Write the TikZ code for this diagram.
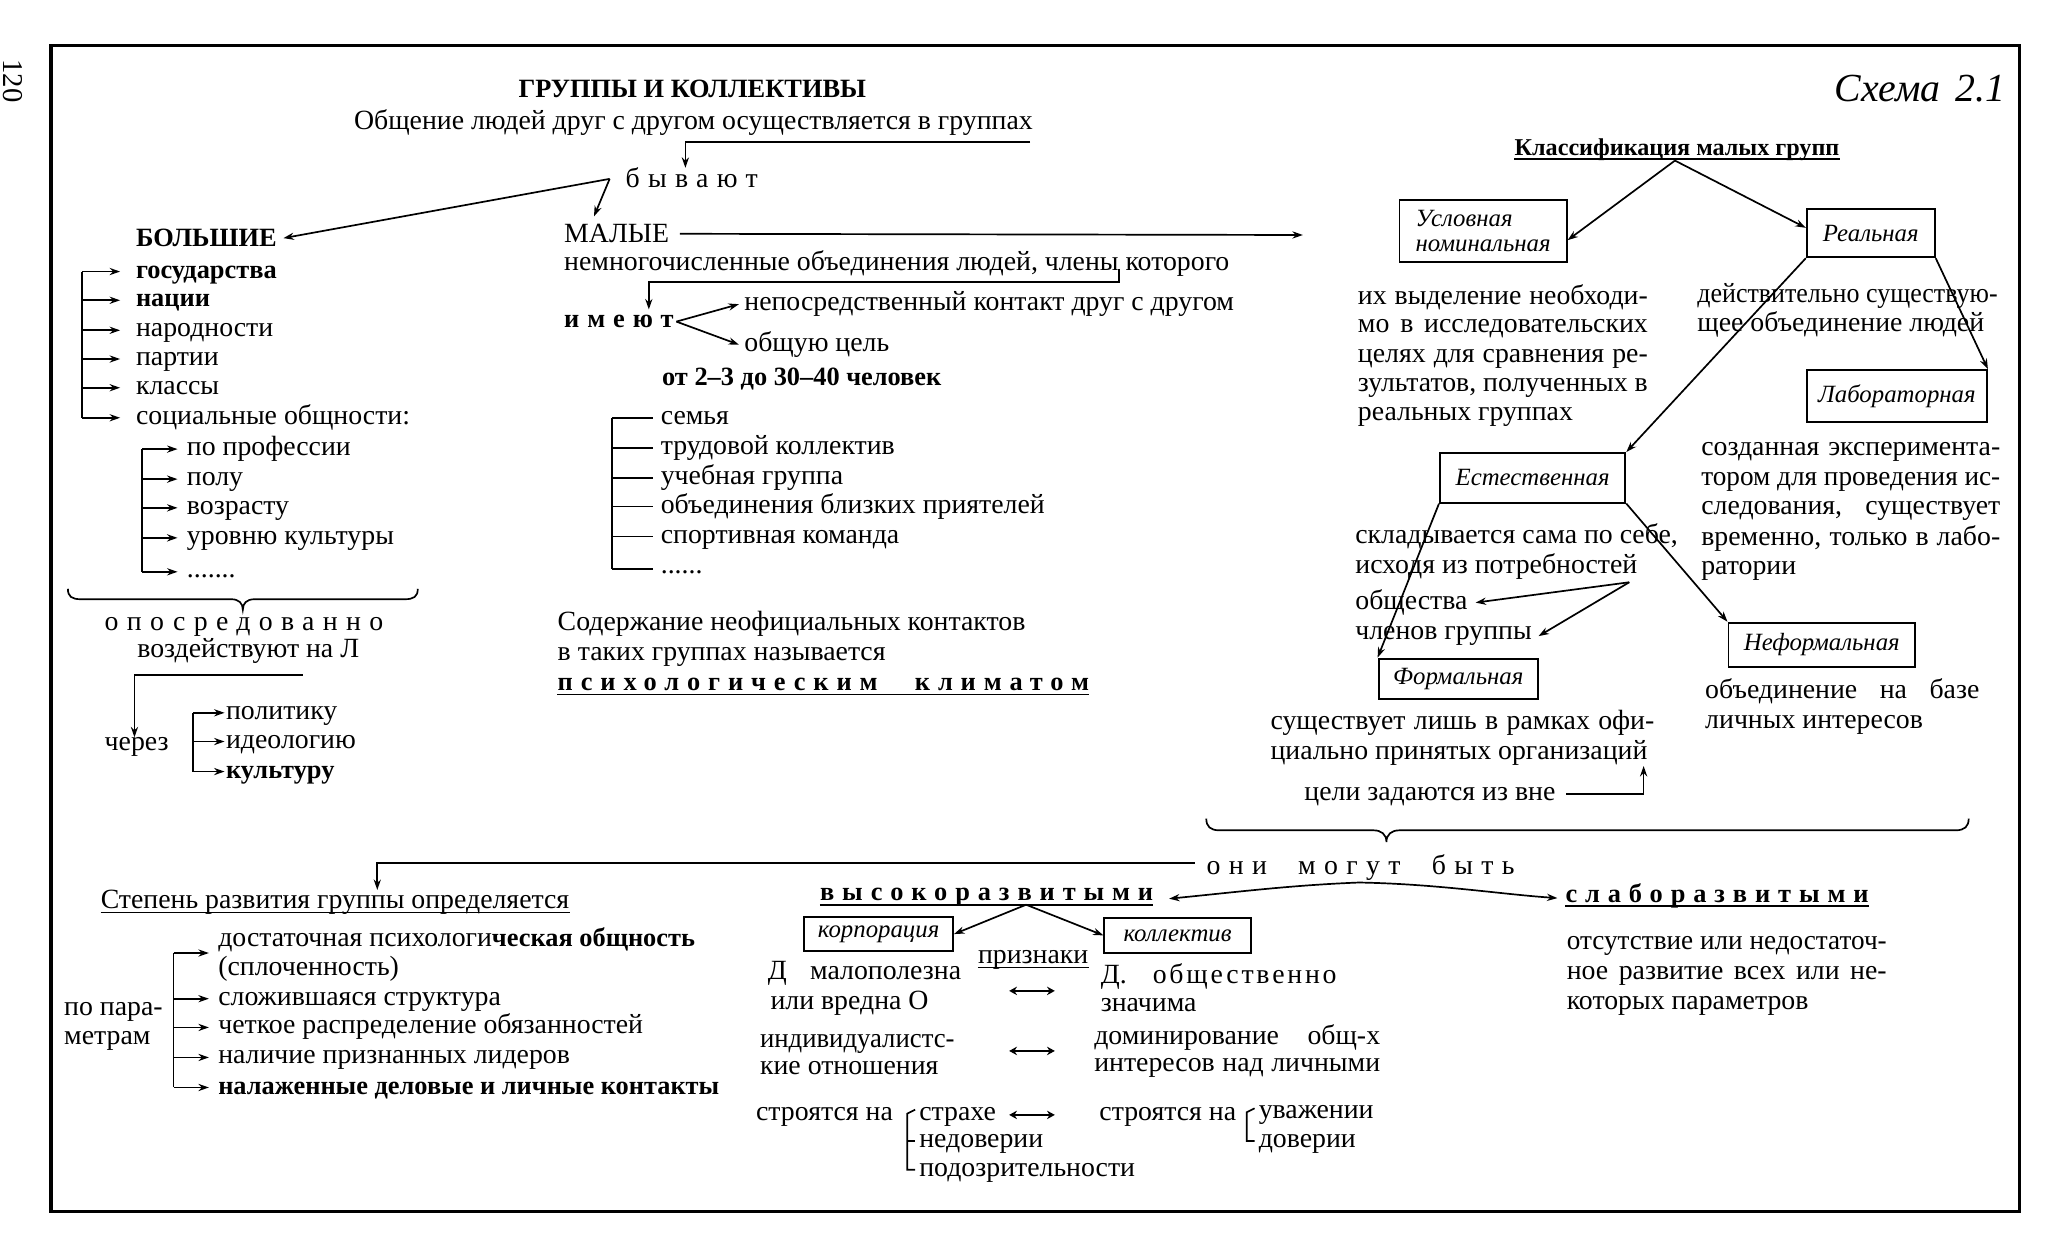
\documentclass[tikz,border=0pt]{standalone}
\usepackage{fontspec}
\setmainfont{Liberation Serif}
\newfontfamily\spc[LetterSpace=30]{Liberation Serif}
\newfontfamily\spcs[LetterSpace=10]{Liberation Serif}
\usetikzlibrary{arrows.meta}
\newcommand\fn{\fontsize{21.3}{23}\selectfont}
\newcommand\fnb{\fontsize{20.2}{22}\selectfont\bfseries}
\newcommand\fbx{\fontsize{19}{19}\selectfont\itshape}
\newlength\jlw
\newcommand\jl[2]{\settowidth\jlw{#2}\ifdim\jlw>#1\relax\pgfmathsetmacro\jlf{#1/\jlw}\scalebox{\jlf}[1]{#2}\else\makebox[#1][s]{#2}\fi}
\tikzset{
 t/.style={anchor=base west,inner sep=0pt,font=\fn},
 tb/.style={anchor=base west,inner sep=0pt,font=\fnb},
 ln/.style={line width=1.3pt},
 arr/.style={ln,-{Stealth[length=8pt,width=5.5pt]}},
 dbl/.style={line width=1.7pt,{Stealth[length=6pt,width=6.5pt]}-{Stealth[length=6pt,width=6.5pt]}},
 bx/.style={draw,line width=1.5pt,inner sep=0pt,font=\fbx,anchor=center},
}
\begin{document}
\begin{tikzpicture}[x=1pt,y=-1pt]
\useasboundingbox (0,0) rectangle (1568,954);
\fill[white] (0,0) rectangle (1568,954);
\draw[line width=2.6pt] (39,35) rectangle (1547,928);
\node[rotate=-90,inner sep=0pt,font=\fontsize{22}{24}\selectfont] (pg) at (10,62) {120};

% ---------- title ----------
\node[tb] (title) at (397,75) {ГРУППЫ И КОЛЛЕКТИВЫ};
\node[t] (obsh) at (271,99) {Общение людей друг с другом осуществляется в группах};
\node[t,font=\fn\spc] (byv) at (479,144) {бывают};
\coordinate (o1) at (789,109);
\coordinate (o2) at (525,109);
\draw[arr] (o1) -- (o2) -- (o2 |- byv.north);

\node[tb] (bol) at (104,189) {БОЛЬШИЕ};
\node[t] (mal) at (432,186) {МАЛЫЕ};
\coordinate (j1) at (467,137);
\draw[arr] (j1) -- ([xshift=23pt,yshift=6pt]mal.north west);
\draw[arr] (j1) -- ([xshift=5pt]bol.east);
\coordinate (mr) at (998,180);
\draw[arr] ([xshift=8pt]mal.east) -- (mr);

% ---------- small groups ----------
\node[t] (nem) at (432,207) {немногочисленные объединения людей, члены которого};
\node[t,font=\fnb\spc] (ime) at (432,251) {имеют};
\coordinate (n1) at (857,206);
\coordinate (n2) at (857,216);
\coordinate (n3) at (497,216);
\coordinate (n4) at (497,237);
\draw[arr] (n1) -- (n2) -- (n3) -- (n4);
\node[t] (nep) at (570,238) {непосредственный контакт друг с другом};
\node[t] (cel) at (570,269) {общую цель};
\draw[arr] ([xshift=2pt]ime.east) -- ([xshift=-4pt,yshift=5pt]nep.base west);
\draw[arr] ([xshift=2pt]ime.east) -- ([xshift=-4pt,yshift=5pt]cel.base west);
\node[tb] (ot) at (507,295) {от 2–3 до 30–40 человек};

\node[t] (m1) at (506,325) {семья};
\node[t] (m2) at (506,348) {трудовой коллектив};
\node[t] (m3) at (506,371) {учебная группа};
\node[t] (m4) at (506,393) {объединения близких приятелей};
\node[t] (m5) at (506,416) {спортивная команда};
\node[t] (m6) at (506,439) {......};
\draw[ln] ([xshift=-37pt,yshift=5pt]m1.base west) -- ([xshift=-37pt,yshift=3pt]m6.base west);
\foreach \n in {m1,m2,m3,m4,m5} \draw[ln] ([xshift=-37pt,yshift=5pt]\n.base west) -- ([xshift=-6pt,yshift=5pt]\n.base west);
\draw[ln] ([xshift=-37pt,yshift=3pt]m6.base west) -- ([xshift=-6pt,yshift=3pt]m6.base west);

\node[t] (sod1) at (427,483) {Содержание неофициальных контактов};
\node[t] (sod2) at (427,506) {в таких группах называется};
\node[t,font=\fnb\spc] (psy) at (427,529) {\jl{407pt}{психологическим климатом}};
\draw[ln] ([yshift=-3pt]psy.base west) -- ([yshift=-3pt]psy.base east);

% ---------- big groups ----------
\node[tb] (b1) at (104,213) {государства};
\node[tb] (b2) at (104,235) {нации};
\node[t] (b3) at (104,258) {народности};
\node[t] (b4) at (104,280) {партии};
\node[t] (b5) at (104,302) {классы};
\node[t] (b6) at (104,325) {социальные общности:};
\draw[ln] ([xshift=-41pt,yshift=5pt]b1.base west) -- ([xshift=-41pt,yshift=5pt]b6.base west);
\foreach \n in {b1,b2,b3,b4,b5,b6} \draw[arr] ([xshift=-41pt,yshift=5pt]\n.base west) -- ([xshift=-12pt,yshift=5pt]\n.base west);

\node[t] (s1) at (143,349) {по профессии};
\node[t] (s2) at (143,372) {полу};
\node[t] (s3) at (143,394) {возрасту};
\node[t] (s4) at (143,417) {уровню культуры};
\node[t] (s5) at (143,442) {.......};
\draw[ln] ([xshift=-34pt,yshift=5pt]s1.base west) -- ([xshift=-34pt,yshift=4pt]s5.base west);
\foreach \n in {s1,s2,s3,s4} \draw[arr] ([xshift=-34pt,yshift=5pt]\n.base west) -- ([xshift=-7pt,yshift=5pt]\n.base west);
\draw[arr] ([xshift=-34pt,yshift=4pt]s5.base west) -- ([xshift=-7pt,yshift=4pt]s5.base west);

\draw[ln] (52,451) .. controls (52,457) and (55,459) .. (62,459) -- (177,459) .. controls (183,459) and (186,462) .. (186,467) .. controls (186,462) and (189,459) .. (195,459) -- (310,459) .. controls (317,459) and (320,457) .. (320,451);

\node[t,font=\fn\spc] (opo) at (80,483) {опосредованно};
\node[t] (vozd) at (105,504) {воздействуют на Л};
\node[t] (cherez) at (80,575) {через};
\coordinate (v1) at (232,517);
\coordinate (v2) at (103,517);
\draw[arr] (v1) -- (v2) -- (v2 |- cherez.north);
\node[t] (p1) at (173,551) {политику};
\node[t] (p2) at (173,573) {идеологию};
\node[tb] (p3) at (173,596) {культуру};
\draw[ln] ([xshift=-25pt,yshift=5pt]p1.base west) -- ([xshift=-25pt,yshift=5pt]p3.base west);
\foreach \n in {p1,p2,p3} \draw[arr] ([xshift=-25pt,yshift=5pt]\n.base west) -- ([xshift=-1pt,yshift=5pt]\n.base west);

% ---------- classification ----------
\node[t,font=\fontsize{30.5}{32}\selectfont\itshape] (schema) at (1405,78) {Схема\hspace{4pt} 2.1};
\node[t,font=\fontsize{18.5}{20}\selectfont\bfseries] (klass) at (1160,119) {Классификация малых групп};
\draw[ln] ([yshift=-3pt]klass.base west) -- ([yshift=-3pt]klass.base east);
\coordinate (apex) at (1283,123);

\node[bx,minimum width=128pt,minimum height=48pt,align=left] (usl) at (1136,177) {Условная\\номинальная};
\node[bx,minimum width=98pt,minimum height=37pt] (real) at (1433,178.5) {Реальная};
\node[bx,minimum width=138pt,minimum height=40pt] (lab) at (1453,303.5) {Лабораторная};
\node[bx,minimum width=142pt,minimum height=38pt] (est) at (1174,366) {Естественная};
\node[bx,minimum width=122pt,minimum height=31pt] (form) at (1117,520) {Формальная};
\node[bx,minimum width=143pt,minimum height=34pt] (neform) at (1395.5,494) {Неформальная};
\draw[arr] (apex) -- ([yshift=-7pt]usl.east);
\draw[arr] (apex) -- ([yshift=4pt]real.west);
\draw[arr] (real.south east) -- (lab.north east);
\draw[arr] (real.south west) -- (est.north east);
\draw[arr] (est.south west) -- (form.north west);
\draw[arr] (est.south east) -- (neform.north west);

\node[t] (r11) at (1040,233) {\jl{222pt}{их выделение необходи-}};
\node[t] (r12) at (1040,255) {\jl{222pt}{мо в исследовательских}};
\node[t] (r13) at (1040,278) {\jl{222pt}{целях для сравнения ре-}};
\node[t] (r14) at (1040,300) {\jl{222pt}{зультатов, полученных в}};
\node[t] (r15) at (1040,322) {реальных группах};

\node[t] (r21) at (1300,232) {\jl{230pt}{действительно существую-}};
\node[t] (r22) at (1300,254) {щее объединение людей};

\node[t] (r31) at (1303,349) {\jl{229pt}{созданная эксперимента-}};
\node[t] (r32) at (1303,372) {\jl{229pt}{тором для проведения ис-}};
\node[t] (r33) at (1303,394) {\jl{229pt}{следования, существует}};
\node[t] (r34) at (1303,418) {\jl{229pt}{временно, только в лабо-}};
\node[t] (r35) at (1303,440) {ратории};

\node[t] (r41) at (1038,416) {складывается сама по себе,};
\node[t] (r42) at (1038,439) {исходя из потребностей};
\node[t] (obsc) at (1038,467) {общества};
\node[t] (chl) at (1038,490) {членов группы};
\coordinate (jn) at (1248,446);
\draw[arr] (jn) -- ([xshift=6pt]obsc.east);
\draw[arr] (jn) -- ([xshift=5pt]chl.east);

\node[t] (nf1) at (1306,535) {\jl{210pt}{объединение на базе}};
\node[t] (nf2) at (1306,558) {личных интересов};

\node[t] (fd1) at (973,559) {\jl{294pt}{существует лишь в рамках офи-}};
\node[t] (fd2) at (973,582) {циально принятых организаций};
\node[t] (celi) at (999,613) {цели задаются из вне};
\coordinate (ce1) at (1259,608);
\draw[arr] ([xshift=8pt,yshift=5pt]celi.base east) -- (ce1) -- (ce1 |- fd2.south);

\draw[ln] (924,627) .. controls (924,633) and (927,636) .. (934,636) -- (1052,636) .. controls (1058,636) and (1062,639) .. (1062,645) .. controls (1062,639) and (1066,636) .. (1072,636) -- (1498,636) .. controls (1505,636) and (1508,633) .. (1508,627);

% ---------- development ----------
\node[t,font=\fn\spc] (oni) at (924,670) {они\hspace{24pt}могут\hspace{24pt}быть};
\node[t] (stepen) at (77,696) {Степень развития группы определяется};
\draw[ln] ([yshift=-3pt]stepen.base west) -- ([yshift=-3pt]stepen.base east);
\coordinate (st1) at (289,661);
\draw[arr] ([xshift=-9pt,yshift=9pt]oni.base west) -- (st1) -- (st1 |- stepen.north);

\node[t,font=\fnb\spc] (vys) at (628,690) {высокоразвитыми};
\draw[ln] ([yshift=-3pt]vys.base west) -- ([yshift=-3pt]vys.base east);
\node[t,font=\fnb\spc] (slab) at (1199,691) {слаборазвитыми};
\draw[ln] ([yshift=-3pt]slab.base west) -- ([yshift=-3pt]slab.base east);
\coordinate (peak) at (1041,676);
\draw[arr] (peak) .. controls (990,678) and (950,683) .. ([xshift=12pt,yshift=-1pt]vys.east);
\draw[arr] (peak) .. controls (1100,677) and (1150,685) .. ([xshift=-6pt,yshift=-2pt]slab.west);

\node[t] (ot1) at (1200,727) {\jl{245pt}{отсутствие или недостаточ-}};
\node[t] (ot2) at (1200,750) {\jl{245pt}{ное развитие всех или не-}};
\node[t] (ot3) at (1200,773) {которых параметров};

\node[bx,minimum width=114pt,minimum height=26pt] (korp) at (673,715.5) {корпорация};
\node[bx,minimum width=112pt,minimum height=27pt] (koll) at (902,716.5) {коллектив};
\coordinate (va) at (786,693);
\draw[arr] (va) -- (korp.east);
\draw[arr] (va) -- (koll.west);
\node[t] (prizn) at (749,738) {признаки};
\draw[ln] ([yshift=-3pt]prizn.base west) -- ([yshift=-3pt]prizn.base east);

\node[t] (dm) at (588,750) {\jl{148pt}{Д малополезна}};
\node[t] (dv) at (590,773) {или вредна О};
\node[t] (dob) at (843,753) {Д.\hspace{20pt}{\spcs общественно}};
\node[t] (zn) at (843,775) {значима};
\node[t] (ind) at (582,802) {\jl{149pt}{индивидуалистс-}};
\node[t] (kie) at (582,823) {кие отношения};
\node[t] (dom) at (838,800) {\jl{219pt}{доминирование общ-х}};
\node[t] (intr) at (838,821) {\jl{219pt}{интересов над личными}};

\coordinate (a1l) at (773,759); \coordinate (a1r) at (808,759);
\coordinate (a2l) at (773,805); \coordinate (a2r) at (808,805);
\coordinate (a3l) at (773,854); \coordinate (a3r) at (808,854);
\draw[dbl] (a1l) -- (a1r);
\draw[dbl] (a2l) -- (a2r);
\draw[dbl] (a3l) -- (a3r);

\node[t] (str1) at (579,858) {строятся на};
\node[t] (stx) at (704,858) {страхе};
\node[t] (ned) at (704,879) {недоверии};
\node[t] (pod) at (704,901) {подозрительности};
\draw[ln] ([xshift=-3pt,yshift=8pt]stx.base west) -- ([xshift=-9pt,yshift=5pt]stx.base west) -- ([xshift=-9pt,yshift=5pt]pod.base west) -- ([xshift=-3pt,yshift=5pt]pod.base west);
\draw[ln] ([xshift=-9pt,yshift=5pt]ned.base west) -- ([xshift=-3pt,yshift=5pt]ned.base west);

\node[t] (str2) at (842,858) {строятся на};
\node[t] (uv) at (964,857) {уважении};
\node[t] (dov) at (964,879) {доверии};
\draw[ln] ([xshift=-3pt,yshift=8pt]uv.base west) -- ([xshift=-9pt,yshift=5pt]uv.base west) -- ([xshift=-9pt,yshift=5pt]dov.base west) -- ([xshift=-3pt,yshift=5pt]dov.base west);

% ---------- parameters ----------
\node[t] (q1) at (167,725) {достаточная психологи{\fnb ческая общность}};
\node[t] (q2) at (167,747) {(сплоченность)};
\node[t] (q3) at (167,770) {сложившаяся структура};
\node[t] (q4) at (167,792) {четкое распределение обязанностей};
\node[t] (q5) at (167,815) {наличие признанных лидеров};
\node[tb] (q6) at (167,838) {налаженные деловые и личные контакты};
\node[t] (par1) at (49,778) {по пара-};
\node[t] (par2) at (49,800) {метрам};
\draw[ln] ([xshift=-34pt,yshift=-5pt]q1.base west) -- ([xshift=-34pt,yshift=5pt]q6.base west);
\draw[arr] ([xshift=-34pt,yshift=-5pt]q1.base west) -- ([xshift=-7pt,yshift=-5pt]q1.base west);
\foreach \n in {q3,q4,q5,q6} \draw[arr] ([xshift=-34pt,yshift=5pt]\n.base west) -- ([xshift=-7pt,yshift=5pt]\n.base west);
\end{tikzpicture}
\end{document}
